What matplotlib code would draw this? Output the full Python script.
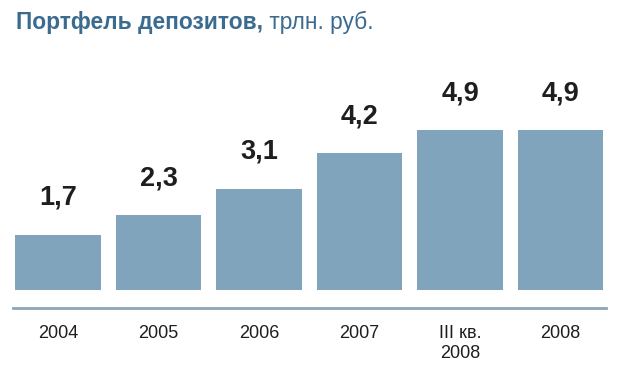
import matplotlib
matplotlib.use("Agg")
import matplotlib.pyplot as plt
from matplotlib.lines import Line2D

categories = ["2004", "2005", "2006", "2007", "III кв.\n2008", "2008"]
values = [1.7, 2.3, 3.1, 4.2, 4.9, 4.9]
value_labels = ["1,7", "2,3", "3,1", "4,2", "4,9", "4,9"]
title_bold = "Портфель депозитов,"
title_rest = " трлн. руб."

plt.rcParams['font.family'] = ['Liberation Sans', 'DejaVu Sans']

W, H = 623, 391
fig = plt.figure(figsize=(W / 100, H / 100), dpi=100)
fig.patch.set_facecolor('white')

# axes: bar baseline at y=290px, 32.6 px per unit, spacing 100.5 px
left_px = 7.75
width_px = 603
bottom_px = 290
top_px = 60
ax = fig.add_axes([left_px / W, (H - bottom_px) / H, width_px / W, (bottom_px - top_px) / H])
ax.set_xlim(-0.5, len(categories) - 0.5)
ax.set_ylim(0, (bottom_px - top_px) / 32.6)

x = list(range(len(categories)))
bars = ax.bar(x, values, width=0.855, color='#7fa4bc', edgecolor='none')

for xi, v, lab in zip(x, values, value_labels):
    ax.annotate(lab, (xi, v), xytext=(0, 21.6), textcoords='offset points',
                ha='center', va='baseline', fontsize=19.5, fontweight='bold',
                color='#1e1e1e')

ax.set_xticks(x)
ax.set_xticklabels(categories, fontsize=13, color='#1e1e1e', linespacing=1.25)
ax.tick_params(axis='x', length=0, pad=25)
ax.tick_params(axis='y', left=False, labelleft=False)
for s in ax.spines.values():
    s.set_visible(False)

# baseline rule
fig.add_artist(Line2D([13 / W, 606 / W], [(H - 308) / H, (H - 308) / H],
                      color='#8aa6b7', linewidth=2))

# title
t1 = fig.text(16 / W, (H - 22.5) / H, title_bold, fontsize=16.4, fontweight='bold',
              color='#3b6b8f', va='center', ha='left')
fig.canvas.draw()
bb = t1.get_window_extent()
fig.text(bb.x1 / W, (H - 22.5) / H, title_rest, fontsize=16.4, color='#3b6b8f',
         va='center', ha='left')

fig.savefig('out.png', dpi=100, facecolor='white')
